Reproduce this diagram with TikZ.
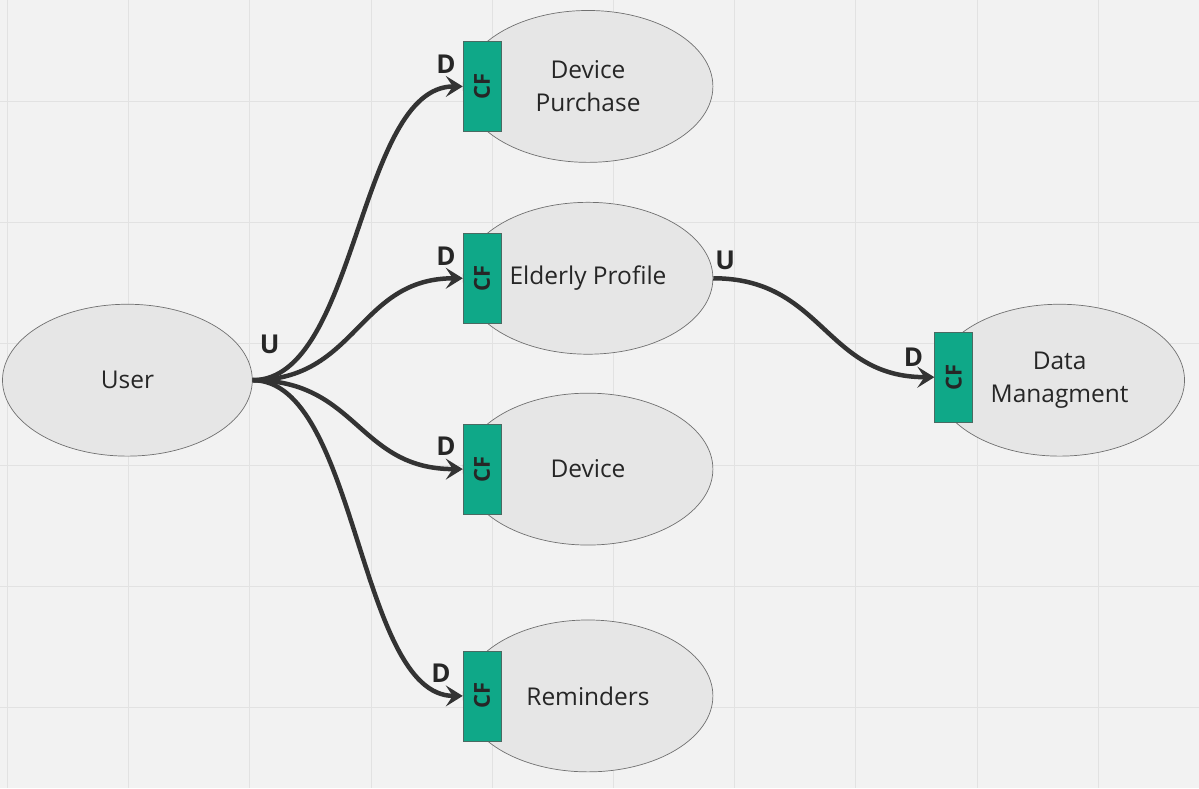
\documentclass[tikz,border=0pt]{standalone}
\usepackage{fontspec}
\setmainfont{Open Sans}
\usetikzlibrary{shapes.geometric,arrows.meta,positioning}
\definecolor{paper}{HTML}{F2F2F2}
\definecolor{gridline}{HTML}{E2E2E2}
\definecolor{ovalfill}{HTML}{E6E6E6}
\definecolor{ovaldraw}{HTML}{707070}
\definecolor{cffill}{HTML}{0FA888}
\definecolor{cfdraw}{HTML}{4A6A62}
\definecolor{ink}{HTML}{333333}

\begin{document}
\begin{tikzpicture}[x=1pt, y=-1pt,
    main/.style = {draw=ovaldraw, fill=ovalfill, ellipse, line width=0.7pt,
        minimum width=250pt, minimum height=152pt, inner sep=0pt,
        align=center, text=black!85, font=\fontsize{24.5}{33}\selectfont},
    cf/.style = {draw=cfdraw, fill=cffill, line width=0.7pt, anchor=west,
        minimum width=38pt, minimum height=90pt, inner sep=0pt,
        text=black!85, font=\bfseries\fontsize{22}{22}\selectfont},
    link/.style = {draw=ink, line width=4.5pt, -{Stealth[length=17pt,width=21pt,inset=7pt]}},
    tag/.style = {inner sep=0pt, text=black!85, font=\bfseries\fontsize{26}{26}\selectfont}]
    % background and grid
    \fill[paper] (0,0) rectangle (1199,788);
    \foreach \i in {0,...,9}
        \draw[gridline, line width=1pt] (7+121.3*\i,0) -- (7+121.3*\i,788);
    \foreach \j in {0,...,5}
        \draw[gridline, line width=1pt] (0,101+121.3*\j) -- (1199,101+121.3*\j);
    \useasboundingbox (0,0) rectangle (1199,788);

    % contexts
    \node[main] (user) at (127,380) {User};
    \node[main] (purchase) at (588,86) {Device\\Purchase};
    \node[main] (profile) at (588,278) {Elderly Profile};
    \node[main] (device) at (588,469) {Device};
    \node[main] (remind) at (588,696) {Reminders};
    \node[main] (data) at (1060,380) {Data\\Managment};

    % conformist boxes
    \node[cf] (cf1) at (purchase.west) {\rotatebox{90}{CF}};
    \node[cf] (cf2) at (profile.west) {\rotatebox{90}{CF}};
    \node[cf] (cf3) at (device.west) {\rotatebox{90}{CF}};
    \node[cf] (cf4) at (remind.west) {\rotatebox{90}{CF}};
    \node[cf, yshift=3pt] (cf5) at (data.west) {\rotatebox{90}{CF}};

    % relations
    \draw[link] (user.east) .. controls +(105,0) and +(-105,0) .. (cf1.west);
    \draw[link] (user.east) .. controls +(105,0) and +(-105,0) .. (cf2.west);
    \draw[link] (user.east) .. controls +(105,0) and +(-105,0) .. (cf3.west);
    \draw[link] (user.east) .. controls +(105,0) and +(-105,0) .. (cf4.west);
    \draw[link] (profile.east) .. controls +(110,0) and +(-110,0) .. (cf5.west);

    % upstream / downstream tags
    \node[tag, above right=26pt and 7pt of user.east] (u1) {U};
    \node[tag, above right=8pt and 2pt of profile.east] (u2) {U};
    \node[tag, above left=13pt and 7pt of cf1.west] (d1) {D};
    \node[tag, above left=13pt and 7pt of cf2.west] (d2) {D};
    \node[tag, above left=13pt and 7pt of cf3.west] (d3) {D};
    \node[tag, above left=13pt and 12pt of cf4.west] (d4) {D};
    \node[tag, above left=10pt and 11pt of cf5.west] (d5) {D};
\end{tikzpicture}
\end{document}
